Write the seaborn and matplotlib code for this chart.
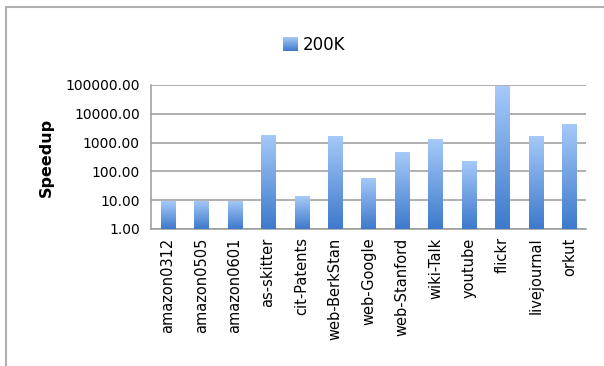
import numpy as np
import pandas as pd
import seaborn as sns
import matplotlib.pyplot as plt
from matplotlib.lines import Line2D
from matplotlib.patches import Patch
from matplotlib.colors import LinearSegmentedColormap
from matplotlib.legend_handler import HandlerBase
from matplotlib.image import BboxImage
from matplotlib.transforms import Bbox, TransformedBbox

# Data
graphs = ["amazon0312", "amazon0505", "amazon0601", "as-skitter", "cit-Patents",
          "web-BerkStan", "web-Google", "web-Stanford", "wiki-Talk", "youtube",
          "flickr", "livejournal", "orkut"]
speedup = [9.1, 9.5, 9.5, 1900, 13.5, 1730, 59, 470, 1330, 235, 89000, 1730, 4550]
series = "200K"

df = pd.DataFrame({"graph": graphs, "speedup": speedup})

sns.set_style("white")
plt.rcParams["font.family"] = ["DejaVu Sans"]
plt.rcParams["text.color"] = "black"
plt.rcParams["xtick.color"] = "black"
plt.rcParams["ytick.color"] = "black"
plt.rcParams["axes.labelcolor"] = "black"

cmap = LinearSegmentedColormap.from_list("bar", ["#3d79cb", "#a6caf9"])
grad = np.linspace(0, 1, 256).reshape(-1, 1)


class GradientHandler(HandlerBase):
    # legend key drawn with the same vertical gradient as the bars
    def create_artists(self, legend, orig_handle, xdescent, ydescent,
                       width, height, fontsize, trans):
        bb = TransformedBbox(Bbox.from_bounds(-xdescent, -ydescent, width, height), trans)
        img = BboxImage(bb, cmap=cmap, origin="lower", interpolation="bilinear")
        img.set_data(grad)
        return [img]


fig = plt.figure(figsize=(6.04, 3.66), dpi=100)
ax = fig.add_axes([151 / 604, 1 - 229 / 366, (586 - 151) / 604, (229 - 85) / 366])

sns.barplot(data=df, x="graph", y="speedup", color="#6a9de0", width=0.42,
            ax=ax, zorder=3)
ax.set_yscale("log")
ax.set_ylim(1, 100000)
ax.set_xlim(-0.5, len(graphs) - 0.5)

# vertical gradient on each bar: light at top, dark at bottom
to_axes = ax.transAxes.inverted()
for p in list(ax.patches):
    x0, x1 = p.get_x(), p.get_x() + p.get_width()
    top = p.get_y() + p.get_height()
    (ax0, ay0) = to_axes.transform(ax.transData.transform((x0, 1)))
    (ax1, ay1) = to_axes.transform(ax.transData.transform((x1, top)))
    im = ax.imshow(grad, cmap=cmap, origin="lower", aspect="auto",
                   extent=[ax0, ax1, ay0, ay1], transform=ax.transAxes,
                   zorder=4, interpolation="bilinear")
    im.set_clip_path(p)
    p.set_edgecolor("none")
ax.set_xlim(-0.5, len(graphs) - 0.5)
ax.set_ylim(1, 100000)

# axes styling
yticks = [1, 10, 100, 1000, 10000, 100000]
ax.set_yticks(yticks)
ax.set_yticklabels([f"{v:.2f}" for v in yticks], fontsize=10)
ax.minorticks_off()
ax.yaxis.grid(True, color="#9a9a9a", linewidth=1.1, zorder=1)
ax.set_axisbelow(True)
ax.tick_params(axis="y", length=5, color="#9a9a9a", labelcolor="black", direction="out", pad=3)
ax.set_xticks(range(len(graphs)))
ax.set_xticklabels(graphs, rotation=90, fontsize=10.5)
ax.tick_params(axis="x", which="major", length=0, pad=6, labelcolor="black")
ax.set_xticks(np.arange(-0.5, len(graphs), 1), minor=True)
ax.tick_params(axis="x", which="minor", length=5, color="#9a9a9a", direction="out")
for s in ["top", "right"]:
    ax.spines[s].set_visible(False)
for s in ["left", "bottom"]:
    ax.spines[s].set_color("#9a9a9a")
    ax.spines[s].set_linewidth(1.1)

ax.set_xlabel("")
ax.set_ylabel("Speedup", fontsize=11.5, fontweight="bold", labelpad=8, color="black")

fig.legend(handles=[Patch(facecolor="#6a9de0", edgecolor="none", label=series)],
           handler_map={Patch: GradientHandler()},
           loc="center", bbox_to_anchor=(0.52, 0.877), frameon=False,
           fontsize=12, handlelength=0.9, handleheight=0.9, handletextpad=0.3)

# outer chart border (only top and left visible in the crop)
bx, by = 6 / 604, 1 - 7 / 366
fig.add_artist(Line2D([bx, bx], [0, by], color="#b0b0b0", linewidth=1.5))
fig.add_artist(Line2D([bx, 1], [by, by], color="#b0b0b0", linewidth=1.5))

plt.savefig("out.png", dpi=100)
